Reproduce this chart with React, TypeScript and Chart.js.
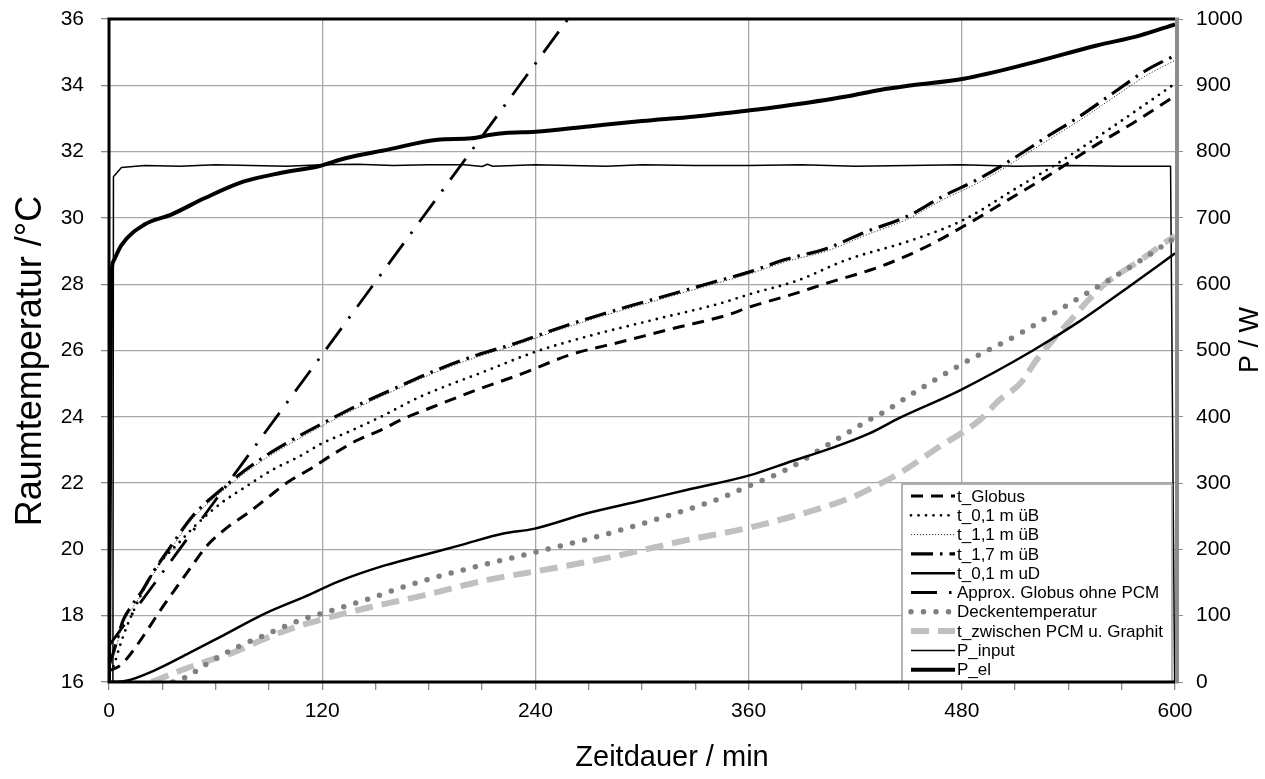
import React, { useEffect, useRef } from "react";
import { Chart, registerables } from "chart.js";
Chart.register(...registerables);

const FONT = '"Liberation Sans", Arial, Helvetica, sans-serif';

const X_TITLE = "Zeitdauer / min";
const Y_TITLE = "Raumtemperatur /°C";
const Y2_TITLE = "P / W";
const X_LABEL_TICKS = [0, 120, 240, 360, 480, 600];

const SERIES_LABELS = [
  "t_Globus",
  "t_0,1 m üB",
  "t_1,1 m üB",
  "t_1,7 m üB",
  "t_0,1 m uD",
  "Approx. Globus ohne PCM",
  "Deckentemperatur",
  "t_zwischen PCM u. Graphit",
  "P_input",
  "P_el",
];

// t_Globus (°C)
const GLOBUS_T = [0, 5, 10, 15, 21, 29, 37, 46, 55, 67, 78, 90, 101, 114, 127, 140, 153, 166, 180, 207, 233, 259, 289, 318, 348, 361, 385, 404, 434, 460, 484, 509, 531, 554, 576, 600];
const GLOBUS_V = [16.35, 16.45, 16.7, 17.05, 17.52, 18.17, 18.78, 19.45, 20.1, 20.68, 21.09, 21.59, 22.04, 22.45, 22.9, 23.3, 23.6, 23.95, 24.25, 24.81, 25.31, 25.86, 26.27, 26.67, 27.07, 27.32, 27.7, 28.03, 28.53, 29.13, 29.84, 30.64, 31.35, 32.15, 32.85, 33.68];

// t_0,1 m üB (°C)
const UB01_T = [0, 2.4, 6, 10, 16, 21, 28, 39, 50, 63, 77, 92, 107, 120, 135, 153, 175, 212, 240, 269, 306, 344, 362, 387, 415, 452, 481, 509, 537, 565, 600];
const UB01_V = [16.3, 16.46, 17.07, 17.67, 18.4, 18.95, 19.55, 20.18, 20.79, 21.39, 21.89, 22.4, 22.8, 23.2, 23.55, 24.0, 24.6, 25.38, 25.96, 26.42, 26.92, 27.42, 27.72, 28.1, 28.73, 29.33, 29.94, 30.84, 31.75, 32.75, 34.05];

// t_1,7 m üB and t_1,1 m üB (°C), same sampling times
const UB17_T = [0, 2, 8, 13, 19, 25, 34, 47, 63, 82, 103, 122, 142, 163, 182, 207, 229, 250, 273, 295, 318, 338, 361, 381, 404, 426, 449, 469, 490, 509, 528, 546, 565, 584, 600];
const UB17_V = [16.5, 16.8, 17.87, 18.32, 18.78, 19.33, 20.03, 21.0, 21.8, 22.6, 23.3, 23.85, 24.4, 24.91, 25.36, 25.86, 26.22, 26.62, 27.02, 27.37, 27.72, 28.03, 28.38, 28.75, 29.08, 29.58, 30.04, 30.64, 31.19, 31.79, 32.45, 33.05, 33.76, 34.46, 34.9];
const UB11_V = [16.45, 16.7, 17.75, 18.22, 18.7, 19.25, 19.95, 20.92, 21.72, 22.52, 23.22, 23.78, 24.33, 24.85, 25.3, 25.8, 26.16, 26.56, 26.96, 27.31, 27.66, 27.97, 28.32, 28.68, 29.0, 29.48, 29.95, 30.54, 31.08, 31.68, 32.33, 32.93, 33.62, 34.3, 34.75];

// t_0,1 m uD (°C)
const UD01_T = [0, 9, 26, 45, 63, 88, 110, 129, 153, 175, 198, 222, 239, 269, 297, 325, 361, 381, 409, 428, 445, 479, 520, 546, 576, 600];
const UD01_V = [16.0, 16.03, 16.36, 16.87, 17.37, 18.07, 18.57, 19.03, 19.48, 19.8, 20.13, 20.48, 20.62, 21.09, 21.44, 21.79, 22.24, 22.6, 23.1, 23.5, 23.97, 24.8, 26.0, 26.87, 28.0, 28.93];

// Approx. Globus ohne PCM (°C)
const APPROX_T = [0, 270];
const APPROX_V = [17.1, 36.85];

// Deckentemperatur (°C)
const DECKE_T = [36, 40, 47, 53, 60, 73, 88, 108, 123, 144, 166, 182, 203, 241, 278, 316, 344, 359, 381, 406, 426, 438, 445, 479, 513, 544, 578, 600];
const DECKE_V = [16.0, 16.06, 16.26, 16.48, 16.71, 17.07, 17.42, 17.87, 18.12, 18.47, 18.87, 19.13, 19.43, 19.93, 20.43, 21.04, 21.54, 21.89, 22.4, 23.2, 23.85, 24.2, 24.45, 25.56, 26.52, 27.52, 28.63, 29.4];

// t_zwischen PCM u. Graphit (°C)
const ZW_T = [24, 41, 54, 69, 86, 103, 122, 148, 176, 213, 250, 288, 325, 359, 391, 405, 419, 431, 445, 466, 490, 501, 513, 522, 533, 543, 550, 561, 569, 582, 595, 600];
const ZW_V = [16.0, 16.36, 16.61, 16.87, 17.27, 17.62, 17.92, 18.27, 18.6, 19.08, 19.43, 19.83, 20.28, 20.64, 21.09, 21.32, 21.59, 21.9, 22.3, 23.05, 23.9, 24.5, 25.01, 25.71, 26.42, 27.02, 27.45, 28.03, 28.33, 28.78, 29.28, 29.45];

// P_input (W)
const PIN_T = [0, 2.2, 2.5, 7, 20, 40, 60, 80, 100, 120, 140, 160, 180, 200, 210, 213, 216, 240, 260, 280, 300, 330, 360, 390, 420, 450, 480, 510, 540, 570, 597.5, 599.8];
const PIN_V = [0, 0, 762, 776, 779, 778, 780, 779, 778, 780, 781, 779, 780, 780, 777.5, 781, 778, 780, 779, 778, 780, 779, 779, 780, 778, 779, 780, 778, 779, 778, 778, 0];

// P_el (W)
const PEL_T = [0, 1.2, 2.4, 7, 20, 35, 54, 76, 97, 118, 133, 157, 185, 204, 214, 223, 240, 270, 300, 330, 360, 378, 415, 434, 452, 481, 518, 556, 580, 600];
const PEL_V = [0, 600, 634, 659, 690, 705, 730, 755, 768, 778, 790, 803, 818, 820, 825, 828, 830, 838, 846, 853, 862, 868, 883, 893, 900, 910, 933, 960, 975, 992];

const SERIES = [
  { t: GLOBUS_T, v: GLOBUS_V, axis: "y" },
  { t: UB01_T, v: UB01_V, axis: "y" },
  { t: UB17_T, v: UB11_V, axis: "y" },
  { t: UB17_T, v: UB17_V, axis: "y" },
  { t: UD01_T, v: UD01_V, axis: "y" },
  { t: APPROX_T, v: APPROX_V, axis: "y" },
  { t: DECKE_T, v: DECKE_V, axis: "y" },
  { t: ZW_T, v: ZW_V, axis: "y" },
  { t: PIN_T, v: PIN_V, axis: "y2" },
  { t: PEL_T, v: PEL_V, axis: "y2" },
];

const STYLES = [
  { color: "#000000", width: 3, dash: [12, 8], cap: "butt", smooth: true },
  { color: "#000000", width: 2.8, dash: [0, 7.5], cap: "round", smooth: true },
  { color: "#333333", width: 1, dash: [1.2, 1.8], cap: "butt", smooth: true },
  { color: "#000000", width: 3.2, dash: [22, 7, 2.5, 7], cap: "butt", smooth: true },
  { color: "#000000", width: 2.5, dash: [], cap: "butt", smooth: true },
  { color: "#000000", width: 2.8, dash: [26, 12, 2.5, 12], cap: "butt", smooth: false },
  { color: "#808080", width: 5.5, dash: [0, 12.5], cap: "round", smooth: true },
  { color: "#c0c0c0", width: 6, dash: [18, 9], cap: "butt", smooth: true },
  { color: "#000000", width: 1.5, dash: [], cap: "butt", smooth: false },
  { color: "#000000", width: 4, dash: [], cap: "butt", smooth: true },
];

const decorPlugin = {
  id: "decor",
  afterDatasetsDraw(chart: any) {
    const ctx = chart.ctx as CanvasRenderingContext2D;
    const a = chart.chartArea;
    // legend
    const bl = a.right - 273;
    const bt = a.top + 465;
    const br = a.right - 3;
    const bb = a.bottom;
    ctx.save();
    ctx.fillStyle = "#ffffff";
    ctx.fillRect(bl, bt, br - bl, bb - bt);
    ctx.strokeStyle = "#9a9a9a";
    ctx.lineWidth = 1.5;
    ctx.strokeRect(bl, bt, br - bl, bb - bt);
    chart.data.datasets.forEach((ds: any, i: number) => {
      const y = bt + 12 + i * 19.3;
      ctx.save();
      ctx.strokeStyle = ds.borderColor;
      ctx.lineWidth = ds.borderWidth;
      ctx.lineCap = ds.borderCapStyle || "butt";
      ctx.setLineDash(ds.borderDash || []);
      ctx.beginPath();
      ctx.moveTo(bl + 9, y);
      ctx.lineTo(bl + 53, y);
      ctx.stroke();
      ctx.restore();
      ctx.fillStyle = "#000";
      ctx.font = `17px ${FONT}`;
      ctx.textAlign = "left";
      ctx.textBaseline = "middle";
      ctx.fillText(ds.label, bl + 55, y + 1);
    });
    // frame
    ctx.setLineDash([]);
    ctx.strokeStyle = "#000";
    ctx.lineWidth = 3;
    ctx.beginPath();
    ctx.moveTo(a.right, a.top);
    ctx.lineTo(a.left, a.top);
    ctx.lineTo(a.left, a.bottom);
    ctx.lineTo(a.right, a.bottom);
    ctx.stroke();
    ctx.strokeStyle = "#8c8c8c";
    ctx.lineWidth = 4;
    ctx.beginPath();
    ctx.moveTo(a.right + 2, a.top - 1.5);
    ctx.lineTo(a.right + 2, a.bottom + 1.5);
    ctx.stroke();
    ctx.restore();
  },
  afterDraw(chart: any) {
    const ctx = chart.ctx as CanvasRenderingContext2D;
    ctx.save();
    ctx.fillStyle = "#000";
    ctx.textAlign = "center";
    ctx.textBaseline = "middle";
    ctx.font = `29px ${FONT}`;
    ctx.fillText(X_TITLE, 672, 758);
    ctx.save();
    ctx.translate(31, 361);
    ctx.rotate(-Math.PI / 2);
    ctx.font = `36px ${FONT}`;
    ctx.fillText(Y_TITLE, 0, 0);
    ctx.restore();
    ctx.save();
    ctx.translate(1251, 340);
    ctx.rotate(-Math.PI / 2);
    ctx.font = `27px ${FONT}`;
    ctx.fillText(Y2_TITLE, 0, 0);
    ctx.restore();
    ctx.restore();
  },
};

export default function App() {
  const canvasRef = useRef<HTMLCanvasElement | null>(null);

  useEffect(() => {
    if (!canvasRef.current) return;
    const datasets = SERIES.map((s, i) => {
      const st = STYLES[i];
      return {
        label: SERIES_LABELS[i],
        data: s.t.map((x, k) => ({ x, y: s.v[k] })),
        yAxisID: s.axis,
        borderColor: st.color,
        backgroundColor: st.color,
        borderWidth: st.width,
        borderDash: st.dash,
        borderCapStyle: st.cap,
        borderJoinStyle: "round",
        pointRadius: 0,
        fill: false,
        tension: 0,
        cubicInterpolationMode: st.smooth ? "monotone" : "default",
      };
    });
    const gridColor = "#a8a8a8";
    const fixVertical = (w: number) => (s: any) => {
      s.width = w;
      s.paddingTop = 0;
      s.paddingBottom = 0;
    };
    const chart = new Chart(canvasRef.current, {
      type: "line",
      data: { datasets: datasets as any },
      plugins: [decorPlugin],
      options: {
        animation: false,
        responsive: true,
        maintainAspectRatio: false,
        devicePixelRatio: 1,
        layout: { padding: { top: 19, left: 0, right: 0, bottom: 0 } },
        plugins: { legend: { display: false }, tooltip: { enabled: false }, title: { display: false } },
        scales: {
          x: {
            type: "linear",
            position: "bottom",
            min: 0,
            max: 600,
            afterFit: (s: any) => {
              s.height = 97;
              s.paddingLeft = 0;
              s.paddingRight = 0;
            },
            ticks: {
              stepSize: 30,
              autoSkip: false,
              maxRotation: 0,
              padding: 9,
              color: "#000",
              font: { family: FONT, size: 21 },
              callback: (v: any) => (X_LABEL_TICKS.includes(Number(v)) ? String(v) : ""),
            },
            grid: {
              color: (c: any) =>
                c.tick && X_LABEL_TICKS.includes(c.tick.value) && c.tick.value > 0 && c.tick.value < 600
                  ? gridColor
                  : "rgba(0,0,0,0)",
              tickColor: "#8a8a8a",
              tickLength: 8,
              lineWidth: 1.3,
            },
            border: { display: false },
          },
          y: {
            type: "linear",
            position: "left",
            min: 16,
            max: 36,
            afterFit: fixVertical(109),
            ticks: {
              stepSize: 2,
              padding: 17,
              color: "#000",
              font: { family: FONT, size: 21 },
              callback: (v: any) => String(v),
            },
            grid: {
              color: (c: any) => (c.tick && c.tick.value > 16 && c.tick.value < 36 ? gridColor : "rgba(0,0,0,0)"),
              tickColor: "#8a8a8a",
              tickLength: 8,
              lineWidth: 1.3,
            },
            border: { display: false },
          },
          y2: {
            type: "linear",
            position: "right",
            min: 0,
            max: 1000,
            afterFit: fixVertical(90),
            ticks: {
              stepSize: 100,
              padding: 13,
              color: "#000",
              font: { family: FONT, size: 21 },
              callback: (v: any) => String(v),
            },
            grid: { drawOnChartArea: false, tickColor: "#8a8a8a", tickLength: 8 },
            border: { display: false },
          },
        },
      } as any,
    });
    return () => chart.destroy();
  }, []);

  return (
    <div style={{ position: "fixed", left: 0, top: 0, width: 1265, height: 779, background: "#fff" }}>
      <canvas ref={canvasRef} />
    </div>
  );
}
